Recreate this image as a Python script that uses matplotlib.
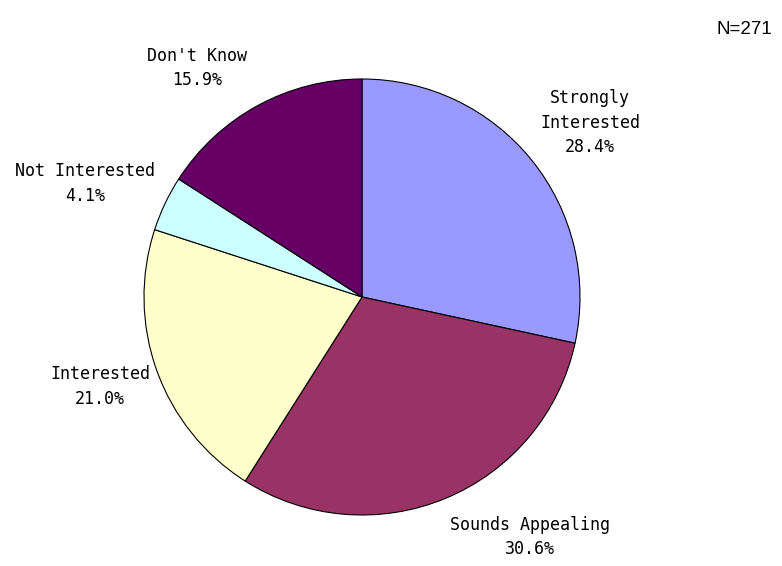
import matplotlib
matplotlib.use("Agg")
from matplotlib import pyplot as plt

labels = ["Strongly\nInterested", "Sounds Appealing", "Interested", "Not Interested", "Don't Know"]
values = [28.4, 30.6, 21.0, 4.1, 15.9]
colors = ["#9999FF", "#993366", "#FFFFCC", "#CCFFFF", "#660066"]
# label spots in axes data units (pie radius = 1)
label_xy = [(1.046, 0.80), (0.771, -1.10), (-1.202, -0.41), (-1.271, 0.52), (-0.757, 1.05)]

fig = plt.figure(figsize=(7.82, 5.66), dpi=100)
cx, cy, r = 362, 297, 218
ax = fig.add_axes([(cx - r) / 782, (566 - cy - r) / 566, 2 * r / 782, 2 * r / 566])

ax.pie(values, colors=colors, startangle=90, counterclock=False,
       wedgeprops=dict(edgecolor="black", linewidth=0.8), radius=1)
ax.set_xlim(-1, 1)
ax.set_ylim(-1, 1)
ax.set_aspect("auto")
ax.axis("off")

for lab, v, (x, y) in zip(labels, values, label_xy):
    ax.text(x, y, f"{lab}\n{v:.1f}%", ha="center", va="center", fontsize=12,
            family="DejaVu Sans Mono", linespacing=1.45, clip_on=False)

fig.text(717 / 782, 0.947, "N=271", ha="left", va="center", fontsize=13.5,
         family="Liberation Sans")

fig.savefig("out.png", dpi=100)
